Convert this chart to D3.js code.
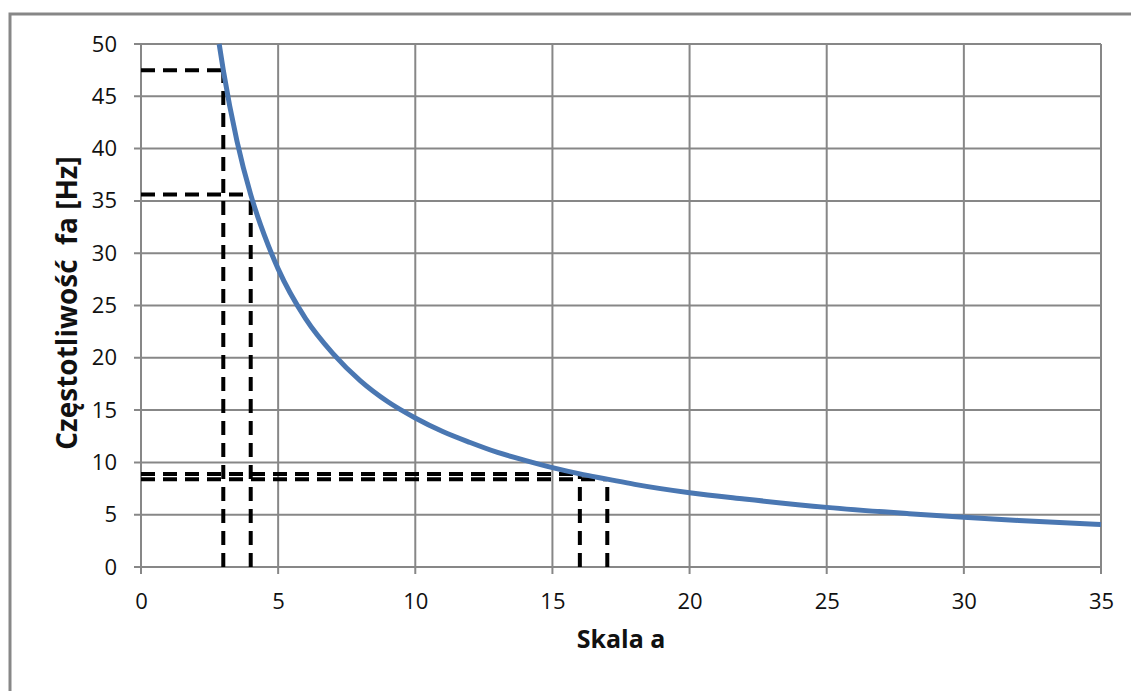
<!DOCTYPE html>
<html>
<head>
<meta charset="utf-8">
<script src="https://cdn.jsdelivr.net/npm/d3@7"></script>
<style>
  html, body { margin: 0; padding: 0; background: #fff; }
  svg { display: block; }
  text { white-space: pre; }
</style>
</head>
<body>
<svg id="chart" width="1131" height="691"></svg>
<script>
// Scale a versus frequency fa
const scaleA = [2.85, 3, 3.5, 4, 4.5, 5, 6, 7, 8, 9, 10, 11, 12, 13, 14, 15, 16, 17, 18, 20, 22, 25, 28, 30, 32, 35];
const freqHz = [50, 47.5, 40.7, 35.6, 31.7, 28.5, 23.75, 20.4, 17.8, 15.8, 14.25, 12.95, 11.9, 10.95, 10.2, 9.5, 8.9, 8.4, 7.9, 7.1, 6.5, 5.7, 5.1, 4.75, 4.45, 4.07];

// Marked points with dashed projections onto both axes
const markA = [3, 4, 16, 17];
const markF = [47.5, 35.6, 8.9, 8.4];

const xTicks = [0, 5, 10, 15, 20, 25, 30, 35];
const yTicks = [0, 5, 10, 15, 20, 25, 30, 35, 40, 45, 50];

const xTitle = "Skala a";
const yTitle = "Częstotliwość  fa [Hz]";

const svg = d3.select("#chart");
const plotL = 141, plotR = 1101, plotT = 44, plotB = 567;

const x = d3.scaleLinear().domain([0, 35]).range([plotL, plotR]);
const y = d3.scaleLinear().domain([0, 50]).range([plotB, plotT]);

const grid = "#878787";
const font = "'Open Sans', 'DejaVu Sans', sans-serif";

// outer chart frame (extends past the right and bottom edges)
svg.append("path")
  .attr("d", "M10,1200 L10,14 L1200,14")
  .attr("fill", "none").attr("stroke", grid).attr("stroke-width", 3);

// gridlines
svg.append("g").selectAll("line").data(yTicks).join("line")
  .attr("x1", plotL - 7).attr("x2", plotR)
  .attr("y1", d => y(d)).attr("y2", d => y(d))
  .attr("stroke", grid).attr("stroke-width", 2);
svg.append("g").selectAll("line").data(xTicks).join("line")
  .attr("x1", d => x(d)).attr("x2", d => x(d))
  .attr("y1", plotT).attr("y2", plotB + 7)
  .attr("stroke", grid).attr("stroke-width", 2);

// axes (labels only; lines drawn as gridlines above)
const yAxis = svg.append("g").attr("transform", `translate(${plotL},0)`)
  .call(d3.axisLeft(y).tickValues(yTicks).tickSize(0).tickPadding(24));
const xAxis = svg.append("g").attr("transform", `translate(0,${plotB})`)
  .call(d3.axisBottom(x).tickValues(xTicks).tickSize(0).tickPadding(26));
[yAxis, xAxis].forEach(g => {
  g.select(".domain").remove();
  g.selectAll("text").attr("font-family", font).attr("font-size", 22).attr("fill", "#111");
});

// dashed projections
const dashes = svg.append("g").attr("stroke", "#000").attr("stroke-width", 4)
  .attr("stroke-dasharray", "14,8").attr("fill", "none");
markA.forEach((a, i) => {
  dashes.append("line")
    .attr("x1", x(0)).attr("x2", x(a))
    .attr("y1", y(markF[i])).attr("y2", y(markF[i]));
  dashes.append("line")
    .attr("x1", x(a)).attr("x2", x(a))
    .attr("y1", y(0)).attr("y2", y(markF[i]));
});

// curve
svg.append("path")
  .datum(scaleA.map((a, i) => [a, freqHz[i]]))
  .attr("fill", "none").attr("stroke", "#4a77b2").attr("stroke-width", 5)
  .attr("d", d3.line().x(d => x(d[0])).y(d => y(d[1])).curve(d3.curveMonotoneX));

// axis titles
svg.append("text")
  .attr("x", 621).attr("y", 648).attr("text-anchor", "middle")
  .attr("font-family", font).attr("font-weight", "bold").attr("font-size", 25)
  .attr("fill", "#111").text(xTitle);
svg.append("text")
  .attr("transform", "translate(77,303) rotate(-90)").attr("text-anchor", "middle")
  .attr("font-family", font).attr("font-weight", "bold").attr("font-size", 28)
  .attr("fill", "#111").text(yTitle);
</script>
</body>
</html>
